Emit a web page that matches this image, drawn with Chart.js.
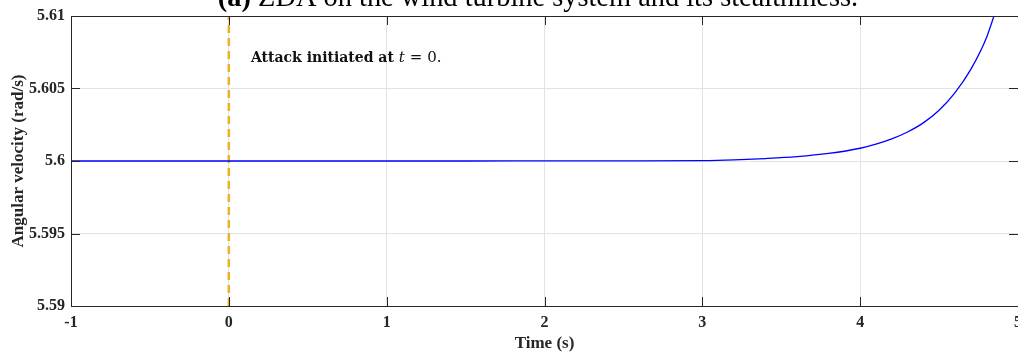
<!DOCTYPE html>
<html lang="en">
<head>
  <meta charset="UTF-8">
  <title>ZDA angular velocity</title>
  <script src="https://cdn.jsdelivr.net/npm/chart.js"></script>
  <style>
    html, body {
      margin: 0;
      padding: 0;
      background: #fff;
      width: 1018px;
      height: 354px;
      overflow: hidden;
    }
    .chart-wrapper {
      position: relative;
      width: 1029px;
      height: 354px;
    }
  </style>
</head>
<body>
  <div class="chart-wrapper">
    <canvas id="zdaChart"></canvas>
  </div>
  <script>
    // values
    const timeSec = [-1, -0.5, 0, 0.5, 1, 1.5, 2, 2.5, 3, 3.2, 3.4, 3.6, 3.8, 4.0,
                     4.1, 4.2, 4.3, 4.4, 4.5, 4.6, 4.7, 4.8, 4.9];
    const omega = [5.6, 5.6, 5.6, 5.6, 5.6, 5.6, 5.600005, 5.60001, 5.60003, 5.60008,
                   5.60017, 5.6003, 5.60052, 5.60088, 5.60116, 5.60152, 5.602, 5.60263,
                   5.6035, 5.6047, 5.6063, 5.6085, 5.6118];
    const attackTime = [0, 0];
    const attackBounds = [5.59, 5.61];
    const xTicks = [-1, 0, 1, 2, 3, 4, 5];
    const yTicks = [5.59, 5.595, 5.6, 5.605, 5.61];

    const serif = "'Liberation Serif', 'DejaVu Serif', serif";

    // box, inward ticks, title and the text note
    const matlabBits = {
      id: 'matlabBits',
      afterDatasetsDraw(chart) {
        const { ctx, chartArea: a, scales: { x, y } } = chart;
        ctx.save();
        ctx.strokeStyle = '#262626';
        ctx.lineWidth = 1;
        ctx.beginPath();
        xTicks.forEach(t => {
          const px = Math.round(x.getPixelForValue(t)) + 0.5;
          ctx.moveTo(px, a.bottom); ctx.lineTo(px, a.bottom - 9);
          ctx.moveTo(px, a.top); ctx.lineTo(px, a.top + 9);
        });
        yTicks.forEach(t => {
          const py = Math.round(y.getPixelForValue(t)) + 0.5;
          ctx.moveTo(a.left, py); ctx.lineTo(a.left + 9, py);
          ctx.moveTo(a.right, py); ctx.lineTo(a.right - 9, py);
        });
        ctx.stroke();
        ctx.strokeRect(Math.round(a.left) + 0.5, Math.round(a.top) + 0.5,
                       Math.round(a.right - a.left), Math.round(a.bottom - a.top));

        // note
        let tx = x.getPixelForValue(0.14);
        const ty = y.getPixelForValue(5.6071);
        ctx.fillStyle = '#111';
        ctx.textBaseline = 'middle';
        ctx.textAlign = 'left';
        ctx.font = "bold 14px 'DejaVu Serif', serif";
        const part1 = 'Attack initiated at ';
        ctx.fillText(part1, tx, ty);
        tx += ctx.measureText(part1).width;
        ctx.font = "italic 15px 'DejaVu Serif', serif";
        ctx.fillText('t', tx, ty);
        tx += ctx.measureText('t').width + 5;
        ctx.font = "15px 'DejaVu Serif', serif";
        ctx.fillText('= 0.', tx, ty);

        // clipped title above the axes
        ctx.fillStyle = '#000';
        ctx.textBaseline = 'alphabetic';
        ctx.font = 'bold 28.4px ' + serif;
        const lead = '(a)';
        const rest = ' ZDA on the wind turbine system and its stealthiness.';
        const w1 = ctx.measureText(lead).width;
        ctx.font = '28.4px ' + serif;
        const w2 = ctx.measureText(rest).width;
        let sx = 538 - (w1 + w2) / 2;
        ctx.font = 'bold 28.4px ' + serif;
        ctx.fillText(lead, sx, 6);
        ctx.font = '28.4px ' + serif;
        ctx.fillText(rest, sx + w1, 6);
        ctx.restore();
      }
    };

    new Chart(document.getElementById('zdaChart'), {
      type: 'line',
      data: {
        datasets: [{
          label: 'omega',
          data: timeSec.map((t, i) => ({ x: t, y: omega[i] })),
          borderColor: '#0000ff',
          borderWidth: 1.3,
          pointRadius: 0,
          cubicInterpolationMode: 'monotone',
          fill: false
        }, {
          label: 'attack',
          data: attackTime.map((t, i) => ({ x: t, y: attackBounds[i] })),
          borderColor: '#edb120',
          borderWidth: 2.5,
          borderDash: [8, 5],
          pointRadius: 0,
          fill: false
        }]
      },
      options: {
        responsive: true,
        maintainAspectRatio: false,
        animation: false,
        layout: { padding: { top: 16, right: 0, left: 0, bottom: 0 } },
        plugins: {
          legend: { display: false },
          tooltip: { enabled: false }
        },
        scales: {
          x: {
            type: 'linear',
            min: -1,
            max: 5,
            afterBuildTicks: s => { s.ticks = xTicks.map(v => ({ value: v })); },
            afterFit: s => { s.height = 48; },
            grid: { color: '#e3e3e3', tickLength: 0, drawTicks: false },
            border: { color: '#262626' },
            ticks: {
              color: '#262626',
              padding: 7,
              font: { family: serif, size: 16, weight: 'bold' },
              callback: v => String(v)
            },
            title: {
              display: true,
              text: 'Time (s)',
              color: '#262626',
              padding: { top: 0, bottom: 0 },
              font: { family: serif, size: 17, weight: 'bold' }
            }
          },
          y: {
            min: 5.59,
            max: 5.61,
            afterBuildTicks: s => { s.ticks = yTicks.map(v => ({ value: v })); },
            afterFit: s => { s.width = 71; },
            grid: { color: '#e3e3e3', tickLength: 0, drawTicks: false },
            border: { color: '#262626' },
            ticks: {
              color: '#262626',
              padding: 6,
              font: { family: serif, size: 16, weight: 'bold' },
              callback: v => String(parseFloat(v.toFixed(3)))
            },
            title: {
              display: true,
              text: 'Angular velocity (rad/s)',
              color: '#262626',
              padding: { top: 8, bottom: 0 },
              font: { family: serif, size: 17, weight: 'bold' }
            }
          }
        }
      },
      plugins: [matlabBits]
    });
  </script>
</body>
</html>
